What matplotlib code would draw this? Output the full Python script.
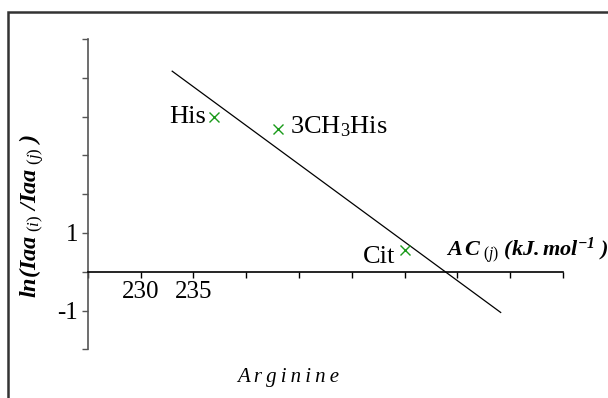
import matplotlib
matplotlib.use("Agg")
import matplotlib.pyplot as plt
from matplotlib.patches import Rectangle

plt.rcParams['font.family'] = ['Liberation Serif', 'DejaVu Serif']
plt.rcParams['mathtext.fontset'] = 'custom'
plt.rcParams['mathtext.rm'] = 'Liberation Serif'
plt.rcParams['mathtext.it'] = 'Liberation Serif:italic'
plt.rcParams['mathtext.bf'] = 'Liberation Serif:bold'
plt.rcParams['mathtext.bfit'] = 'Liberation Serif:bold:italic'

# data
names = ['His', '3CH$_3$His', 'Cit']
ac_values = [237.0, 243.0, 255.0]
ln_ratio = [3.98, 3.69, 0.55]
fit_x = [233.0, 264.1]
fit_y = [5.17, -1.05]
x_ticks = [225, 230, 235, 240, 245, 250, 255, 260, 265, 270]
x_tick_labels = ['', '230', '235', '', '', '', '', '', '', '']
y_ticks = [-2, -1, 0, 1, 2, 3, 4, 5, 6]
y_tick_labels = ['', '-1', '', '1', '', '', '', '', '']

W, H = 608, 398
fig = plt.figure(figsize=(W / 100, H / 100), dpi=100)
ax = fig.add_axes([87.7 / W, (H - 349.3) / H, (563 - 87.7) / W, (349.3 - 39) / H])
ax.set_xlim(225, 270)
ax.set_ylim(-2, 6)

ax.spines['top'].set_visible(False)
ax.spines['right'].set_visible(False)
ax.spines['bottom'].set_position(('data', 0))
ax.spines['left'].set_position(('data', 225))
ax.spines['bottom'].set_linewidth(1.2)
ax.spines['bottom'].set_color('black')
ax.spines['left'].set_linewidth(1.2)
ax.spines['left'].set_color('#555555')

ax.set_xticks(x_ticks)
ax.set_xticklabels(x_tick_labels)
ax.set_yticks(y_ticks)
ax.set_yticklabels(y_tick_labels)
ax.tick_params(axis='x', direction='out', length=4, width=1, color='black',
               labelsize=18, pad=3)
ax.tick_params(axis='y', direction='out', length=4, width=1, color='#555555',
               labelsize=18, pad=3)

ax.plot(fit_x, fit_y, color='black', lw=0.9)
ax.plot(ac_values, ln_ratio, linestyle='none', marker='x', color='#1a9a1a',
        markersize=6.5, markeredgewidth=1.0)

offsets = [(-5.8, -4.3, 'right'), (8.6, -3.6, 'left'), (-6.5, -9.4, 'right')]
for n, xv, yv, (dx, dy, ha) in zip(names, ac_values, ln_ratio, offsets):
    ax.annotate(n, (xv, yv), xytext=(dx, dy), textcoords='offset points',
                ha=ha, va='baseline', fontsize=19)

# axis titles
fig.text(446 / W, (H - 256) / H,
         r'$\mathbfit{A\,C}_{\mathit{\ (j)}}\ \mathbfit{(kJ.mol}^{\mathbfit{-1}}\ \mathbfit{)}$',
         fontsize=16, ha='left', va='baseline')
fig.text(32 / W, (H - 216) / H,
         r'$\mathbfit{ln(Iaa}_{\mathit{\ (i)}}\ \mathbfit{/Iaa}_{\mathit{\ (j)}}\ \mathbfit{)}$',
         fontsize=17.5, rotation=90, ha='center', va='center')
fig.text(288 / W, (H - 382) / H, '\u2009'.join('Arginine'), fontsize=15,
         style='italic', ha='center', va='baseline')

# outer frame
fig.patches.append(Rectangle((8 / W, -0.1), 1.2, (H - 12) / H + 0.1,
                             transform=fig.transFigure, fill=False,
                             edgecolor='#333333', linewidth=1.8))

fig.savefig('out.png', dpi=100)
